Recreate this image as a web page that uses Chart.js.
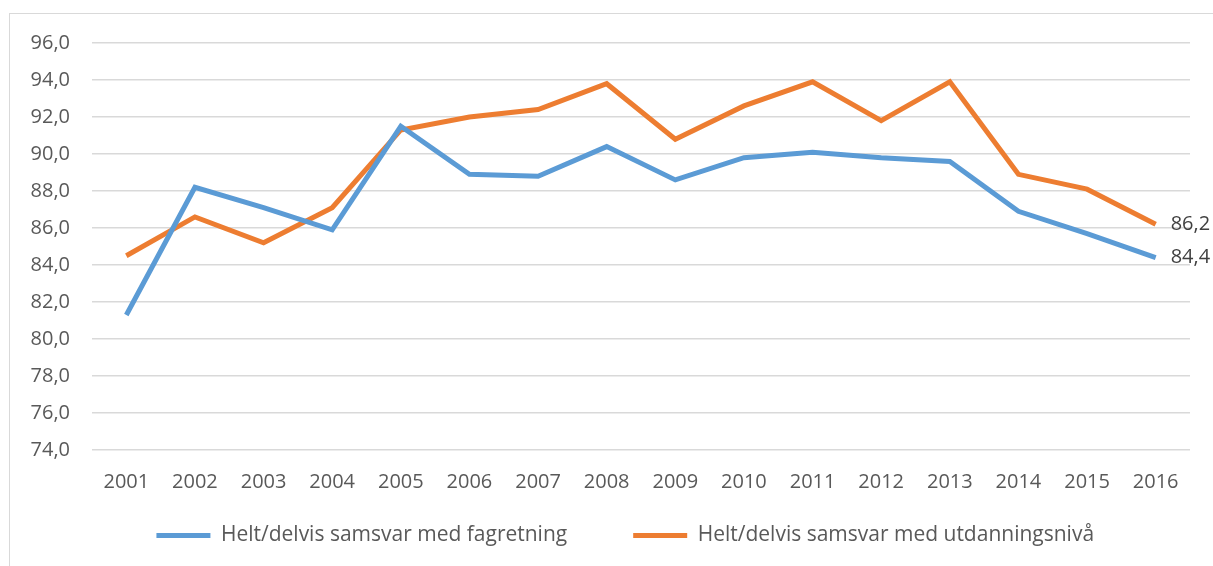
<!DOCTYPE html>
<html>
<head>
<meta charset="utf-8">
<script src="https://cdn.jsdelivr.net/npm/chart.js@4"></script>
<style>
  html, body { margin: 0; padding: 0; background: #fff; }
  #frame { position: absolute; left: 9px; top: 13px; width: 1300px; height: 700px;
           border-left: 1.5px solid #d9d9d9; border-top: 1.5px solid #d9d9d9; }
  #wrap { position: absolute; left: 0; top: 0; width: 1213px; height: 566px; }
</style>
</head>
<body>
<div id="frame"></div>
<div id="wrap"><canvas id="chart"></canvas></div>
<script>
const years = ["2001", "2002", "2003", "2004", "2005", "2006", "2007", "2008",
  "2009", "2010", "2011", "2012", "2013", "2014", "2015", "2016"];
const fagretning = [81.3, 88.2, 87.1, 85.9, 91.5, 88.9, 88.8, 90.4, 88.6, 89.8, 90.1, 89.8, 89.6, 86.9, 85.7, 84.4];
const utdanningsniva = [84.5, 86.6, 85.2, 87.1, 91.3, 92.0, 92.4, 93.8, 90.8, 92.6, 93.9, 91.8, 93.9, 88.9, 88.1, 86.2];
const seriesNames = ["Helt/delvis samsvar med fagretning", "Helt/delvis samsvar med utdanningsnivå"];

const fmt = (v) => Number(v).toFixed(1).replace(".", ",");

// label at the last point of each line
const endLabels = {
  id: "endLabels",
  afterDatasetsDraw(chart) {
    const ctx = chart.ctx;
    ctx.save();
    ctx.font = "20px 'Open Sans'";
    ctx.fillStyle = "#404040";
    ctx.textBaseline = "middle";
    chart.data.datasets.forEach((ds, i) => {
      const pts = chart.getDatasetMeta(i).data;
      const last = pts[pts.length - 1];
      ctx.fillText(fmt(ds.data[ds.data.length - 1]), last.x + 15, last.y);
    });
    ctx.restore();
  },
};

Chart.defaults.font.family = "'Open Sans'";
Chart.defaults.color = "#595959";

new Chart(document.getElementById("chart"), {
  type: "line",
  data: {
    labels: years,
    datasets: [
      {
        label: seriesNames[0],
        data: fagretning,
        borderColor: "#5b9bd5",
        backgroundColor: "#5b9bd5",
        borderWidth: 5,
        pointRadius: 0,
        tension: 0,
      },
      {
        label: seriesNames[1],
        data: utdanningsniva,
        borderColor: "#ed7d31",
        backgroundColor: "#ed7d31",
        borderWidth: 5,
        pointRadius: 0,
        tension: 0,
      },
    ],
  },
  options: {
    responsive: true,
    maintainAspectRatio: false,
    animation: false,
    layout: { padding: { left: 0, right: 23, top: 43, bottom: 10 } },
    plugins: {
      tooltip: { enabled: false },
      legend: {
        position: "bottom",
        fullSize: false,
        labels: {
          usePointStyle: true,
          pointStyle: "line",
          pointStyleWidth: 54,
          padding: 10,
          font: { size: 21 },
          color: "#595959",
          // wider gap between the two entries
          generateLabels: (chart) => {
            const items = Chart.defaults.plugins.legend.labels.generateLabels(chart);
            items[0].text += "\u2003\u2003\u2002\u2009";
            items[1].text += "\u2003\u2002";
            return items;
          },
        },
      },
    },
    scales: {
      y: {
        min: 74,
        max: 96,
        ticks: { stepSize: 2, padding: 22, font: { size: 20 }, callback: (v) => fmt(v) },
        grid: { color: "#d9d9d9", lineWidth: 1.5, drawTicks: false },
        border: { display: false },
        afterFit: (s) => { s.width = 92; },
      },
      x: {
        offset: true,
        ticks: { padding: 20, font: { size: 20 } },
        grid: { display: false, drawTicks: false },
        border: { display: false },
        afterFit: (s) => { s.height = 65; },
      },
    },
  },
  plugins: [endLabels],
});
</script>
</body>
</html>
